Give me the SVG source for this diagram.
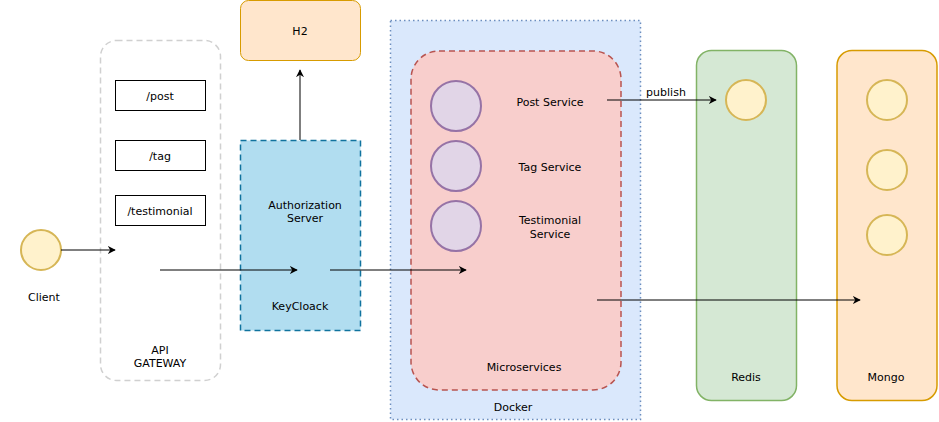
<svg xmlns="http://www.w3.org/2000/svg" width="939" height="422" viewBox="0 0 939 422">
<defs>
<marker id="arr" viewBox="0 0 10 10" refX="9" refY="5" markerWidth="8" markerHeight="8" markerUnits="userSpaceOnUse" orient="auto"><path d="M0,0 L10,5 L0,10 L3,5 z" fill="#000"/></marker>
</defs>
<style>
text{font-family:"DejaVu Sans","Noto Sans",sans-serif;font-size:11px;fill:#000;text-anchor:middle}
.conn{stroke:#000;stroke-width:1;fill:none}
.yc{fill:#fff2cc;stroke:#d6b656;stroke-width:2}
.pc{fill:#e1d5e7;stroke:#9673a6;stroke-width:2}
.route{fill:#fff;stroke:#000;stroke-width:1}
</style>
<rect width="939" height="422" fill="#fff"/>
<g id="docker"><rect x="390.5" y="20.5" width="250" height="399" fill="#dae8fc" stroke="#6c8ebf" stroke-width="1.5" stroke-dasharray="1.5 3"/><text x="513" y="411">Docker</text></g>
<g id="microservices"><rect x="411" y="51" width="210" height="339" rx="28" fill="#f8cecc" stroke="#b85450" stroke-width="1.5" stroke-dasharray="6 4"/><text x="524" y="371">Microservices</text></g>
<g id="post-service"><circle class="pc" cx="456" cy="106" r="25"/><text x="550" y="106">Post Service</text></g>
<g id="tag-service"><circle class="pc" cx="456" cy="166" r="25"/><text x="550" y="171">Tag Service</text></g>
<g id="testimonial-service"><circle class="pc" cx="456" cy="226" r="25"/><text x="550" y="224">Testimonial</text><text x="550" y="238">Service</text></g>
<g id="api-gateway"><rect x="100.5" y="40.5" width="120" height="340" rx="16" fill="#fff" stroke="#d0d0d0" stroke-width="1.5" stroke-dasharray="6 4"/><text x="160" y="354">API</text><text x="160" y="367">GATEWAY</text></g>
<g id="route-post"><rect class="route" x="115.5" y="80.5" width="90" height="30"/><text x="160" y="100">/post</text></g>
<g id="route-tag"><rect class="route" x="115.5" y="140.5" width="90" height="30"/><text x="160" y="160">/tag</text></g>
<g id="route-testimonial"><rect class="route" x="115.5" y="195.5" width="90" height="30"/><text x="160" y="215">/testimonial</text></g>
<g id="client"><circle class="yc" cx="41" cy="250" r="20"/><text x="44" y="301">Client</text></g>
<g id="keycloak"><rect x="240.5" y="140.5" width="120" height="190" fill="#b1ddf0" stroke="#10739e" stroke-width="1.5" stroke-dasharray="6 4"/><text x="305" y="209">Authorization</text><text x="305" y="222">Server</text><text x="300" y="310">KeyCloack</text></g>
<g id="h2"><rect x="240.5" y="0.5" width="120" height="60" rx="8" fill="#ffe6cc" stroke="#d79b00"/><text x="300" y="35">H2</text></g>
<g id="redis"><rect x="696.5" y="50.5" width="100" height="350" rx="15" fill="#d5e8d4" stroke="#82b366" stroke-width="1.5"/><circle class="yc" cx="746" cy="100" r="20"/><text x="746" y="381">Redis</text></g>
<g id="mongo"><rect x="837" y="50.5" width="100" height="350" rx="15" fill="#ffe6cc" stroke="#d79b00" stroke-width="1.5"/><circle class="yc" cx="887" cy="100" r="20"/><circle class="yc" cx="887" cy="170" r="20"/><circle class="yc" cx="887" cy="235" r="20"/><text x="886" y="381">Mongo</text></g>
<g id="connectors">
<path class="conn" d="M61,250 H115" marker-end="url(#arr)"/>
<path class="conn" d="M160,270 H297" marker-end="url(#arr)"/>
<path d="M300,140 V70" stroke="#555" stroke-width="1.5" fill="none" marker-end="url(#arr)"/>
<path class="conn" d="M330,270 H466" marker-end="url(#arr)"/>
<path class="conn" d="M607,100 H716" marker-end="url(#arr)"/>
<text x="666" y="96">publish</text>
<path class="conn" d="M597,300 H860" marker-end="url(#arr)"/>
</g>
</svg>
